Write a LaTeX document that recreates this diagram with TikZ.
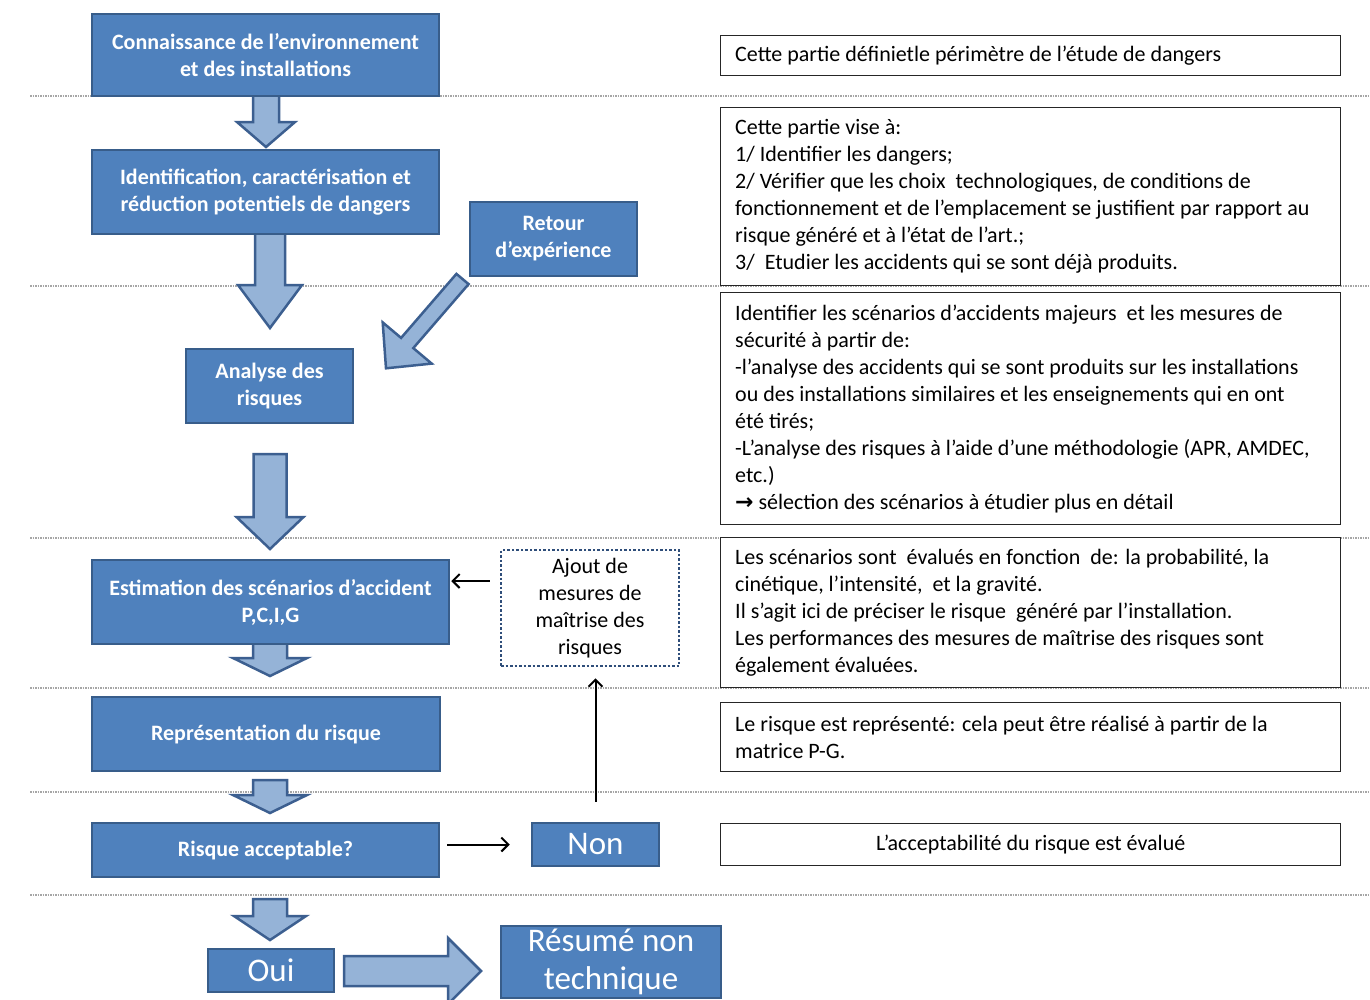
\documentclass[tikz,border=0pt]{standalone}
\usepackage{fontspec}
\setmainfont{Carlito}
\newfontfamily\symfont{DejaVu Sans}
\usetikzlibrary{arrows.meta}
\definecolor{boxfill}{HTML}{4F81BD}
\definecolor{boxline}{HTML}{385D8A}
\definecolor{arrowfill}{HTML}{95B3D7}
\definecolor{arrowline}{HTML}{3C5F90}
\definecolor{sepcol}{HTML}{A6A6A6}
\definecolor{dotcol}{HTML}{2F4E7A}
\newcommand{\varrowshape}[6]{%
  \draw[barrow] ({#1-#5},#2) -- ({#1+#5},#2) -- ({#1+#5},#3) -- ({#1+#6},#3) -- (#1,#4) -- ({#1-#6},#3) -- ({#1-#5},#3) -- cycle;}
\begin{document}
\begin{tikzpicture}[x=1pt,y=-1pt,
  bluebox/.style={draw=boxline, fill=boxfill, line width=2.5pt, text=white,
    font=\bfseries\fontsize{22}{27}\selectfont, align=center, inner sep=0pt},
  bigbox/.style={bluebox, font=\fontsize{33}{40}\selectfont},
  dotbox/.style={draw=dotcol, fill=white, line width=2.5pt, dash pattern=on 2.5pt off 2pt,
    font=\fontsize{22}{27}\selectfont, align=center, inner sep=0pt},
  notebox/.style={draw=black!85, line width=1.4pt, fill=white, inner sep=0pt},
  notetext/.style={font=\fontsize{22}{27}\selectfont, align=left, inner sep=0pt, anchor=west},
  barrow/.style={draw=arrowline, fill=arrowfill, line width=2.5pt, line join=miter},
  thinarrow/.style={draw=black, line width=2pt, -{Straight Barb[length=7pt,width=14pt]}},
  sepline/.style={draw=sepcol, line width=1.2pt, dash pattern=on 1.5pt off 1pt}]
\useasboundingbox (0,0) rectangle (1370,999);
\clip (0,0) rectangle (1370,999);
\fill[white] (0,0) rectangle (1370,999);

% separators
\foreach \yy in {96,286,538,688,792,895} {\draw[sepline] (30,\yy) -- (1370,\yy);}

% block arrows
\varrowshape{266}{95}{122}{147}{13}{29}
\varrowshape{270}{233}{285}{328}{15}{32}
\varrowshape{270}{454}{517}{549}{16.5}{33.5}
\varrowshape{270}{643}{658}{676}{17}{37}
\varrowshape{270}{780}{795}{813}{17}{37}
\varrowshape{270}{899}{916}{940}{17}{36}
\draw[barrow] (344,956) -- (448,956) -- (448,938) -- (481,971) -- (448,1004) -- (448,986) -- (344,986) -- cycle;
\draw[barrow] (456.4,273.9) -- (468.6,284.1) -- (413.3,348.1) -- (431.7,363.6) -- (386,368.3) -- (382.7,322.4) -- (401.1,337.9) -- cycle;

% left boxes
\node[bluebox, minimum width=347pt, minimum height=82pt] (b1) at (265.5,55) {Connaissance de l’environnement\\et des installations};
\node[bluebox, minimum width=347pt, minimum height=84pt] (b2) at (265.5,192) {Identification, caractérisation et\\réduction potentiels de dangers};
\node[bluebox, minimum width=167pt, minimum height=74pt] (b3) at (553.5,239) {Retour\\d’expérience};
\node[bluebox, minimum width=167pt, minimum height=74pt] (b4) at (269.5,386) {Analyse des\\risques};
\node[bluebox, minimum width=357pt, minimum height=84pt] (b5) at (270.5,602) {Estimation des scénarios d’accident\\P,C,I,G};
\node[dotbox, minimum width=178pt, minimum height=116pt] (b6) at (590,608) {Ajout de\\mesures de\\maîtrise des\\risques};
\node[bluebox, minimum width=348pt, minimum height=74pt] (b7) at (266,734) {Représentation du risque};
\node[bluebox, minimum width=347pt, minimum height=54pt] (b8) at (265.5,850) {Risque acceptable?};
\node[bigbox, minimum width=127pt, minimum height=43pt] (b9) at (595.5,844.5) {Non};
\node[bigbox, minimum width=126pt, minimum height=43pt] (b10) at (271,970.5) {Oui};
\node[bigbox, font=\fontsize{33}{38}\selectfont, minimum width=220pt, minimum height=72pt] (b11) at (611,962) {Résumé non\\technique};

% thin connectors
\coordinate (c1s) at ([xshift=-10pt,yshift=27pt]b6.west);
\draw[thinarrow, shorten >=1pt] (c1s) -- (c1s -| b5.east);
\draw[thinarrow] ([xshift=7pt]b8.east |- b9.west) -- ([xshift=-21pt]b9.west);
\draw[thinarrow] ([yshift=20pt]b9.north) -- ([yshift=-11pt]b6.south -| b9.north);

% right note boxes
\node[notebox, minimum width=620pt, minimum height=40pt, anchor=north west] (r1) at (720,35) {};
\node[notetext] (t1) at ([xshift=15pt]r1.west) {Cette partie définietle périmètre de l’étude de dangers};
\node[notebox, minimum width=620pt, minimum height=178pt, anchor=north west] (r2) at (720,107) {};
\node[notetext] (t2) at ([xshift=15pt]r2.west) {Cette partie vise à:\\1/ Identifier les dangers;\\2/ Vérifier que les choix\ \ technologiques, de conditions de\\fonctionnement et de l’emplacement se justifient par rapport au\\risque généré et à l’état de l’art.;\\3/\ \ Etudier les accidents qui se sont déjà produits.};
\node[notebox, minimum width=620pt, minimum height=232pt, anchor=north west] (r3) at (720,292) {};
\node[notetext] (t3) at ([xshift=15pt]r3.west) {Identifier les scénarios d’accidents majeurs\ \ et les mesures de\\sécurité à partir de:\\-l’analyse des accidents qui se sont produits sur les installations\\ou des installations similaires et les enseignements qui en ont\\été tirés;\\-L’analyse des risques à l’aide d’une méthodologie (APR, AMDEC,\\etc.)\\{\symfont\bfseries →} sélection des scénarios à étudier plus en détail};
\node[notebox, minimum width=620pt, minimum height=150pt, anchor=north west] (r4) at (720,537) {};
\node[notetext] (t4) at ([xshift=15pt]r4.west) {Les scénarios sont\ \ évalués en fonction\ \ de: la probabilité, la\\cinétique, l’intensité,\ \ et la gravité.\\Il s’agit ici de préciser le risque\ \ généré par l’installation.\\Les performances des mesures de maîtrise des risques sont\\également évaluées.};
\node[notebox, minimum width=620pt, minimum height=69pt, anchor=north west] (r5) at (720,702) {};
\node[notetext] (t5) at ([xshift=15pt]r5.west) {Le risque est représenté: cela peut être réalisé à partir de la\\matrice P-G.};
\node[notebox, minimum width=620pt, minimum height=42pt, anchor=north west] (r6) at (720,823) {};
\node[font=\fontsize{22}{27}\selectfont, inner sep=0pt] (t6) at (r6.center) {L’acceptabilité du risque est évalué};
\end{tikzpicture}
\end{document}
